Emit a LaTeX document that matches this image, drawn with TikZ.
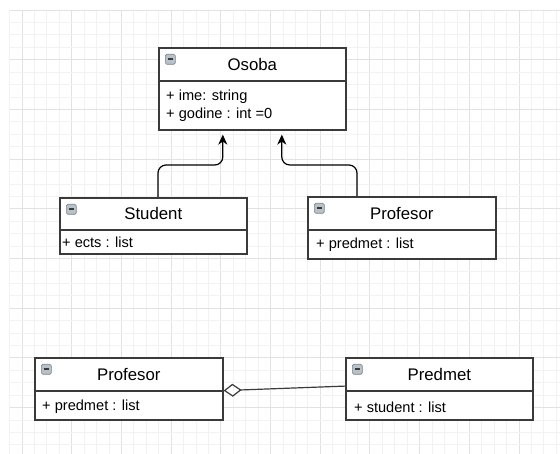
\documentclass[tikz,border=0pt]{standalone}
\usepackage{fontspec}
\setmainfont{Liberation Sans}
\usetikzlibrary{arrows.meta}
\definecolor{gridminor}{HTML}{F2F2F2}
\definecolor{gridmajor}{HTML}{E2E2E2}
\definecolor{boxline}{HTML}{3A3A3A}
\definecolor{icofill}{HTML}{B8C0C8}
\definecolor{icoline}{HTML}{7A828A}
\tikzset{
  hdr/.style={draw=boxline, line width=1.6pt, fill=white, anchor=north west, inner sep=0pt,
    font=\fontsize{16.8}{20}\selectfont, text=black},
  bodybox/.style={draw=boxline, line width=1.6pt, fill=white, anchor=north west, inner sep=0pt},
  attr/.style={anchor=west, inner sep=0pt, font=\fontsize{14.6}{17.5}\selectfont, text=black},
  inherit/.style={draw=black, line width=1.2pt, rounded corners=8pt,
    -{Stealth[length=10pt,width=9pt,inset=3pt]}, shorten >=4pt},
  agg/.style={draw=boxline, line width=1.2pt,
    -{Diamond[open, length=18pt, width=13pt, line width=1.2pt]}},
  icon/.style={draw=icoline, fill=icofill, rounded corners=1.5pt, line width=0.6pt,
    minimum width=10pt, minimum height=10pt, inner sep=0pt, anchor=north west},
}
\newcommand{\umlicon}[2]{%
  \node[icon] (#1) at #2 {};
  \draw[boxline, line width=1.6pt] ([xshift=2.5pt]#1.west) -- ([xshift=-2.5pt]#1.east);
}
\begin{document}
\begin{tikzpicture}[x=1pt,y=-1pt]
\useasboundingbox (0,0) rectangle (560,454);
\fill[white] (0,0) rectangle (560,454);
% grid
\foreach \k in {0,...,44} {
  \pgfmathsetmacro{\xx}{9.6+12.425*\k}
  \pgfmathtruncatemacro{\m}{mod(\k,4)}
  \ifnum\m=1
    \draw[gridmajor, line width=0.9pt] (\xx,10) -- (\xx,454);
  \else
    \draw[gridminor, line width=0.8pt] (\xx,10) -- (\xx,454);
  \fi
}
\foreach \k in {0,...,35} {
  \pgfmathsetmacro{\yy}{10+12.425*\k}
  \pgfmathtruncatemacro{\m}{mod(\k,4)}
  \ifnum\m=0
    \draw[gridmajor, line width=0.9pt] (9.6,\yy) -- (560,\yy);
  \else
    \draw[gridminor, line width=0.8pt] (9.6,\yy) -- (560,\yy);
  \fi
}
% Osoba
\node[hdr, minimum width=187pt, minimum height=33pt] (osobaH) at (158,47) {Osoba};
\node[bodybox, minimum width=187pt, minimum height=49pt] (osobaB) at (158,80) {};
\umlicon{osobaI}{(165,54)}
\node[attr] (osobaA1) at (166,97) {+ ime: string};
\node[attr] (osobaA2) at (166,115) {+ godine : int =0};
% Student
\node[hdr, minimum width=187pt, minimum height=32pt] (studH) at (59,197) {Student};
\node[bodybox, minimum width=187pt, minimum height=24pt] (studB) at (59,229) {};
\umlicon{studI}{(66,204)}
\node[attr] (studA1) at (62,242) {+ ects : list};
% Profesor (top)
\node[hdr, minimum width=188pt, minimum height=33pt] (profH) at (307,196) {Profesor};
\node[bodybox, minimum width=188pt, minimum height=29pt] (profB) at (307,229) {};
\umlicon{profI}{(314,203)}
\node[attr] (profA1) at (316,245) {+ predmet : list};
% Profesor (bottom)
\node[hdr, minimum width=188pt, minimum height=33pt] (prof2H) at (34,357) {Profesor};
\node[bodybox, minimum width=188pt, minimum height=29pt] (prof2B) at (34,390) {};
\umlicon{prof2I}{(41,364)}
\node[attr] (prof2A1) at (42,407) {+ predmet : list};
% Predmet
\node[hdr, minimum width=187pt, minimum height=33pt] (predH) at (345,357) {Predmet};
\node[bodybox, minimum width=187pt, minimum height=29pt] (predB) at (345,390) {};
\umlicon{predI}{(352,364)}
\node[attr] (predA1) at (354,407) {+ student : list};
% inheritance
\draw[inherit] (studH.north west) ++(99,0) coordinate (s1) -- ++(0,-32) -| ([xshift=-29.5pt]osobaB.south);
\draw[inherit] (profH.north west) ++(50,0) coordinate (p1) -- ++(0,-31) -| ([xshift=29.5pt]osobaB.south);
% aggregation
\draw[agg] ([yshift=5.5pt]predH.south west) -- ([yshift=1pt]prof2H.south east);
\end{tikzpicture}
\end{document}
